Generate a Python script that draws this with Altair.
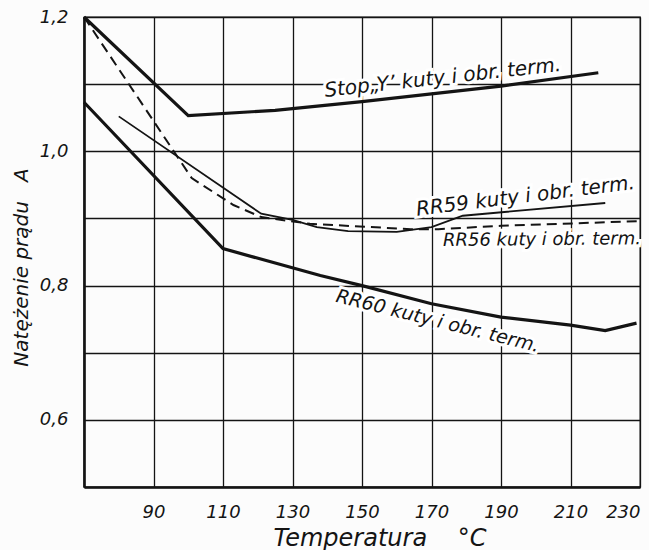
import altair as alt
import pandas as pd

# ---- data ----
stop_t = [70, 100, 125, 150, 190, 218]
stop_v = [1.200, 1.053, 1.061, 1.074, 1.097, 1.117]

rr59_t = [80, 121, 130, 137, 146, 160, 170, 179, 220]
rr59_v = [1.052, 0.907, 0.898, 0.887, 0.881, 0.880, 0.887, 0.904, 0.923]

rr56_t = [70, 101, 113, 121, 135, 164, 172, 190, 230]
rr56_v = [1.200, 0.960, 0.920, 0.902, 0.892, 0.884, 0.884, 0.889, 0.896]

rr60_t = [70, 110, 138, 150, 170, 190, 210, 220, 229]
rr60_v = [1.073, 0.855, 0.815, 0.800, 0.773, 0.753, 0.741, 0.733, 0.744]

x_ticks = [70, 90, 110, 130, 150, 170, 190, 210, 230]
y_ticks = [0.5, 0.6, 0.7, 0.8, 0.9, 1.0, 1.1, 1.2]

label_text = ["Stop\u201eY\u2019 kuty i obr. term.", "RR59 kuty i obr. term.",
              "RR56 kuty i obr. term.", "RR60 kuty i obr. term."]
label_t = [139.4, 165.8, 173.3, 142.2]
label_v = [1.081, 0.904, 0.859, 0.776]

INK = "#141414"
FONT = "DejaVu Sans"
NB = "\u00a0"


def frame(ts, vs):
    return pd.DataFrame({"t": ts, "v": vs, "i": list(range(len(ts)))})


x_enc = alt.X(
    "t:Q",
    scale=alt.Scale(domain=[70, 230], nice=False, zero=False),
    axis=alt.Axis(
        values=x_ticks,
        labelExpr="datum.value == 70 ? '' : datum.label",
        format="d",
        grid=True, gridColor=INK, gridWidth=1.3, gridOpacity=1,
        ticks=False,
        domain=True, domainColor=INK, domainWidth=2.6,
        labelFont=FONT, labelFontSize=18, labelFontStyle="italic", labelColor=INK,
        labelPadding=16, labelFlush=True, labelOverlap=False,
        title="Temperatura" + NB * 4 + "\u00b0C",
        titleFont=FONT, titleFontSize=24, titleFontStyle="italic", titleFontWeight="normal",
        titleColor=INK, titleX=189, titleY=58, titleAlign="left", titleBaseline="alphabetic",
    ),
)
y_enc = alt.Y(
    "v:Q",
    scale=alt.Scale(domain=[0.5, 1.2], nice=False, zero=False),
    axis=alt.Axis(
        values=y_ticks,
        labelExpr="(round(datum.value*10) % 2 == 0 && datum.value > 0.55) ? replace(format(datum.value, '.1f'), '.', ',') : ''",
        grid=True, gridColor=INK, gridWidth=1.3, gridOpacity=1,
        ticks=False,
        domain=True, domainColor=INK, domainWidth=2.6,
        labelFont=FONT, labelFontSize=18, labelFontStyle="italic", labelColor=INK,
        labelPadding=16, labelOverlap=False,
        title="Nat\u0119\u017cenie" + NB + "pr\u0105du" + NB * 3 + "A",
        titleFont=FONT, titleFontSize=20, titleFontStyle="italic", titleFontWeight="normal",
        titleColor=INK, titleAngle=270, titleX=-57, titleY=250, titleAlign="center",
        titleBaseline="alphabetic",
    ),
)

layers = []

label_styles = [(353.7, 20), (353, 20), (359.5, 18), (14, 19)]

# white halo behind labels (cuts the grid like in the drawing)
for txt, tt, vv, (ang, fs) in zip(label_text, label_t, label_v, label_styles):
    layers.append(
        alt.Chart(pd.DataFrame({"t": [tt], "v": [vv], "label": [txt]}))
        .mark_text(align="left", baseline="alphabetic", angle=ang, fontSize=fs,
                   font=FONT, fontStyle="italic", stroke="white", strokeWidth=6,
                   fill="white")
        .encode(x=x_enc if not layers else "t:Q", y=y_enc if not layers else "v:Q",
                text="label:N")
    )

series = [
    (stop_t, stop_v, 3.2, None),
    (rr60_t, rr60_v, 3.2, None),
    (rr59_t, rr59_v, 1.8, None),
    (rr56_t, rr56_v, 2.0, [10, 6]),
]
for ts, vs, w, dash in series:
    kw = dict(color=INK, strokeWidth=w, strokeJoin="miter", strokeCap="butt")
    if dash:
        kw["strokeDash"] = dash
    layers.append(
        alt.Chart(frame(ts, vs)).mark_line(**kw).encode(
            x="t:Q", y="v:Q", order="i:Q")
    )

for txt, tt, vv, (ang, fs) in zip(label_text, label_t, label_v, label_styles):
    layers.append(
        alt.Chart(pd.DataFrame({"t": [tt], "v": [vv], "label": [txt]}))
        .mark_text(align="left", baseline="alphabetic", angle=ang, fontSize=fs,
                   font=FONT, fontStyle="italic", color=INK)
        .encode(x="t:Q", y="v:Q", text="label:N")
    )

chart = (
    alt.layer(*layers)
    .properties(
        width=556, height=470,
        autosize=alt.AutoSizeParams(type="none"),
        padding={"left": 84, "top": 17, "right": 9, "bottom": 63},
        background="#fcfcfc",
    )
    .configure_view(stroke=INK, strokeWidth=1.3)
)

chart.save("out.html", embed_options={"renderer": "svg", "actions": False})
